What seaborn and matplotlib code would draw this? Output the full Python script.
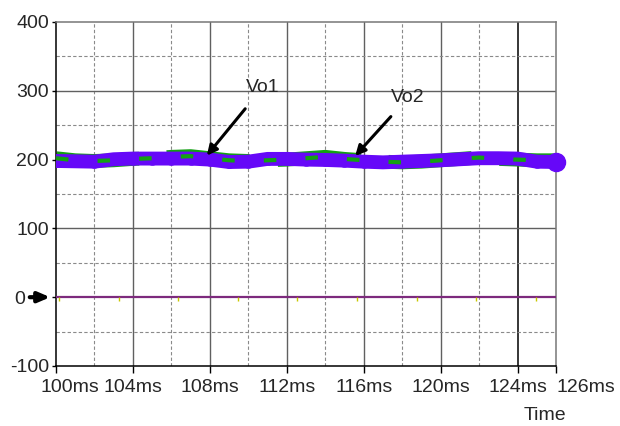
import numpy as np
import pandas as pd
import matplotlib
matplotlib.use("Agg")
import matplotlib.pyplot as plt
import matplotlib.transforms as mtransforms
import seaborn as sns

# ---- data ----
time_ms = [100, 101, 102, 103, 104, 105, 106, 107, 108, 109, 110, 111, 112, 113,
           114, 115, 116, 117, 118, 119, 120, 121, 122, 123, 124, 125, 126]
vo1 = [202, 199, 198, 199, 201, 202, 204, 205, 202, 199, 198, 199, 200, 202,
       204, 201, 199, 197, 196, 197, 199, 201, 203, 201, 200, 199, 199]
vo2 = [198, 197.5, 197, 200.5, 201.5, 201.5, 201.5, 201.5, 200, 196.5, 197, 201, 201, 200,
       199.5, 198.5, 197, 196, 197, 198, 199, 200.5, 202, 202, 201.5, 197, 196.5]
zero_t = [100, 126]
zero_v = [0, 0]
spike_t = [100.16, 103.28, 106.34, 109.46, 112.53, 115.65, 118.77, 121.84, 124.96]
spike_v = [-2, -2, -2, -2, -2, -2, -2, -2, -2]

x_ticks = [100, 104, 108, 112, 116, 120, 124, 126]
x_labels = ["100ms", "104ms", "108ms", "112ms", "116ms", "120ms", "124ms", "126ms"]
y_ticks = [-100, 0, 100, 200, 300, 400]
y_labels = ["-100", "0", "100", "200", "300", "400"]

df = pd.DataFrame({"t": time_ms, "Vo1": vo1, "Vo2": vo2})

sns.set_style("white")
plt.rcParams["font.family"] = ["Liberation Sans", "DejaVu Sans"]

fig = plt.figure(figsize=(6.2, 4.26), dpi=100)
ax = fig.add_axes([56 / 620, 1 - 366 / 426, 500 / 620, 344 / 426])

ax.set_xlim(100, 126)
ax.set_ylim(-100, 400)

# grid
for xv in [104, 108, 112, 116, 120]:
    ax.axvline(xv, color="#606060", lw=1.0, zorder=0)
for xv in [102, 106, 110, 114, 118, 122]:
    ax.axvline(xv, color="#8a8a8a", lw=0.8, ls=(0, (3, 2)), zorder=0)
ax.axvline(124, color="black", lw=1.1, zorder=0)
for yv in [100, 200, 300]:
    ax.axhline(yv, color="#606060", lw=1.0, zorder=0)
for yv in [-50, 50, 150, 250, 350]:
    ax.axhline(yv, color="#8a8a8a", lw=0.8, ls=(0, (3, 2)), zorder=0)

# traces
sns.lineplot(data=df, x="t", y="Vo1", ax=ax, color="#14a014", lw=10,
             zorder=2, legend=False)
ax.lines[-1].set_dashes([6, 2])
sns.lineplot(data=df, x="t", y="Vo2", ax=ax, color="#6608f8", lw=10,
             marker="o", markersize=9, markeredgewidth=0, zorder=3, legend=False)
ax.lines[-1].set_solid_capstyle("round")
sns.lineplot(x=df["t"], y=df["Vo1"], ax=ax, color="#14a014", lw=3,
             zorder=4, legend=False)
ax.lines[-1].set_dashes([3, 7])
ax.plot([time_ms[-1]], [vo2[-1]], "o", color="#6608f8", ms=13, zorder=5, clip_on=False)

sns.lineplot(x=zero_t, y=zero_v, ax=ax, color="#7d2a7d", lw=1.6, zorder=3, legend=False)
ax.plot(spike_t, spike_v, ls="none", marker="|", ms=3, color="#c8c800", zorder=3)

# ticks
ax.set_xticks(x_ticks)
ax.set_xticklabels(x_labels)
ax.set_yticks(y_ticks)
ax.set_yticklabels(y_labels)
ax.tick_params(axis="x", length=5, width=1, pad=4, labelsize=14, color="black", direction="out",
               bottom=True)
ax.tick_params(axis="y", length=3, width=1, pad=2, labelsize=14, color="black", direction="out",
               left=True)
ax.set_xlabel("")
ax.set_ylabel("")

xl = ax.get_xticklabels()
xl[0].set_transform(xl[0].get_transform() + mtransforms.ScaledTranslation(14 / 100, 0, fig.dpi_scale_trans))
xl[-1].set_horizontalalignment("left")
yl = ax.get_yticklabels()
yl[1].set_transform(yl[1].get_transform() + mtransforms.ScaledTranslation(-24 / 100, 0, fig.dpi_scale_trans))

for s in ["left", "bottom"]:
    ax.spines[s].set_color("black")
    ax.spines[s].set_linewidth(1.1)
for s in ["top", "right"]:
    ax.spines[s].set_color("#777777")
    ax.spines[s].set_linewidth(1.1)

# annotations
ax.annotate("", xy=(107.75, 202.7), xytext=(109.93, 277),
            arrowprops=dict(arrowstyle="-|>,head_length=0.6,head_width=0.3", color="black", lw=2.2),
            zorder=6)
ax.text(110.74, 305.5, "Vo1", fontsize=14, ha="center", va="center")
ax.annotate("", xy=(115.46, 202.3), xytext=(117.51, 265.5),
            arrowprops=dict(arrowstyle="-|>,head_length=0.6,head_width=0.3", color="black", lw=2.2),
            zorder=6)
ax.text(118.3, 290, "Vo2", fontsize=14, ha="center", va="center")

ax.annotate("", xy=(-0.006, 0), xycoords=("axes fraction", "data"),
            xytext=(-0.058, 0), textcoords=("axes fraction", "data"),
            arrowprops=dict(arrowstyle="-|>,head_length=0.7,head_width=0.3", color="black", lw=3),
            annotation_clip=False)

fig.text(545 / 620, 1 - 415 / 426, "Time", fontsize=14, ha="center", va="center")

fig.savefig("out.png", dpi=100, facecolor="white")
